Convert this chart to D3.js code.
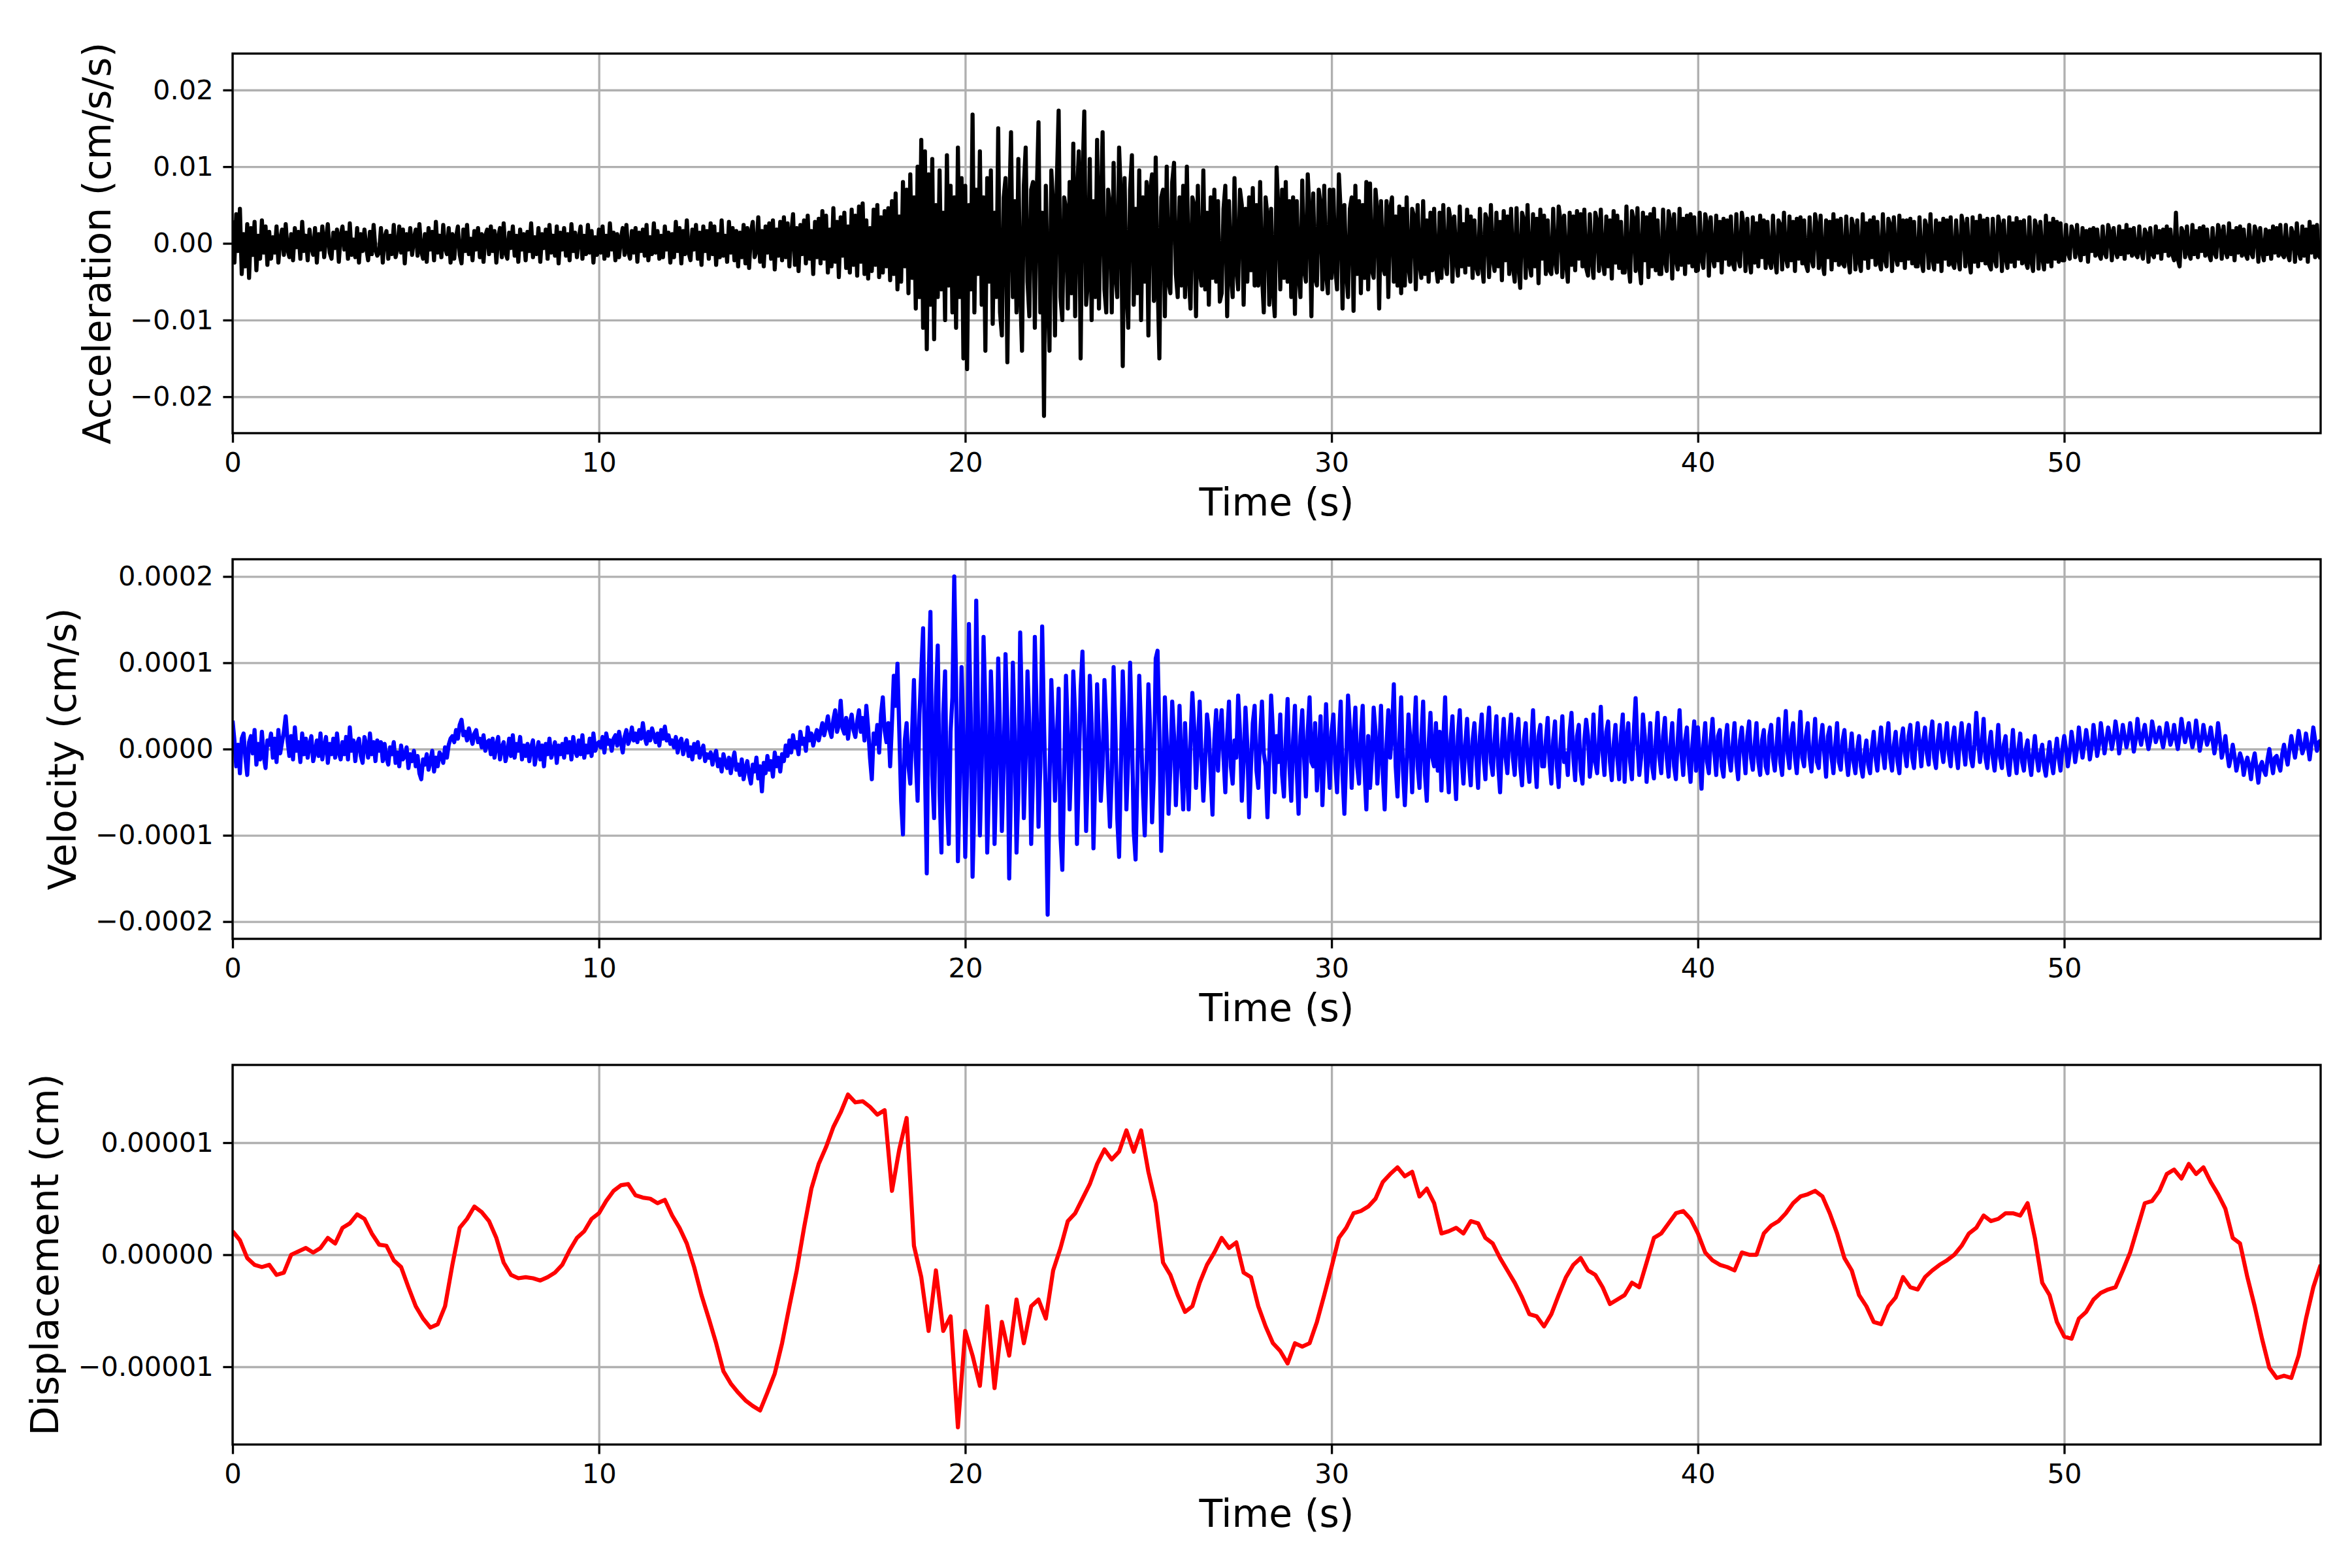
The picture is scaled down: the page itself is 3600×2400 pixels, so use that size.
<!DOCTYPE html>
<html>
<head>
<meta charset="utf-8">
<script src="https://cdn.jsdelivr.net/npm/d3@7"></script>
<style>
  body { margin: 0; background: #ffffff; }
  #chart { width: 3600px; height: 2400px; }
</style>
</head>
<body>
<div id="chart"></div>
<script>

// length of the record, seconds //
var duration = 57;

// acceleration, one sample every 0.05 s (one row per second), units of 1e-4 cm/s/s //
var accel = [
  30,-25,38,-10,45,-40,12,-30,25,-45,20,-15,28,-35,10,-20,30,-12,22,-28,
  15,-20,8,-12,22,-25,5,18,-15,25,-8,-18,12,-22,20,-5,15,-20,28,-10,
  10,-22,18,-5,-15,20,-25,12,-8,22,-18,6,25,-12,-20,14,-6,18,-24,10,
  22,-8,14,-20,26,-15,5,-18,20,-25,12,-10,18,-6,-22,15,-14,24,-8,-16,
  -12,20,-25,8,16,-20,10,-14,24,-18,-6,22,-12,18,-26,12,-8,20,-15,6,
  18,-16,25,-10,-20,12,-24,20,-8,15,-22,28,-12,10,-18,24,-6,-14,20,-25,
  12,-20,8,22,-15,-26,18,-10,24,-14,6,-22,16,-8,20,-18,12,-24,10,18,
  -14,22,-10,16,-25,8,20,-18,26,-12,-20,14,-6,22,-16,10,-24,18,-8,12,
  -22,15,-10,26,-18,8,-14,20,-24,12,-6,18,-20,24,-12,10,-16,22,-26,14,
  -8,20,-16,12,-22,25,-10,14,-18,6,22,-20,10,-14,24,-12,16,-25,8,-15,
  18,-12,22,-20,10,-16,26,-8,14,-22,12,-18,6,20,-15,24,-10,-20,16,-12,
  20,-24,14,-10,18,-16,24,-22,8,-14,26,-12,16,-20,10,-18,22,-8,14,-25,
  12,-18,28,-10,20,-26,16,-14,30,-12,-22,18,-8,24,-20,14,-28,22,-10,16,
  -20,26,-14,22,-28,12,-18,30,-16,10,-24,28,-12,20,-22,16,-30,14,-18,24,
  -26,20,-32,14,28,-18,-10,34,-24,16,-30,22,-12,26,-20,30,-34,18,-16,28,
  -22,34,-18,26,-30,12,38,-28,20,-36,24,-14,30,-26,36,-20,16,-40,28,-18,
  32,-26,42,-20,36,-38,18,-30,46,-24,28,-44,34,-16,40,-32,22,-38,44,-28,
  36,-42,48,-24,52,-40,30,-46,20,-36,44,-28,50,-44,34,-38,42,-30,46,-48,
  55,-40,65,-60,35,-50,80,-30,70,-65,90,-45,60,-85,100,-70,135,-110,120,-138,
  90,-80,110,-125,50,-70,95,-60,40,-100,115,-55,75,-90,60,-110,125,-70,85,-150,
  75,-164,50,-60,168,-90,70,-40,120,-80,60,-140,85,-50,95,-105,40,-70,150,-90,
  -120,60,85,-155,40,145,-70,55,-90,110,-60,-140,75,125,-50,-95,70,80,-110,60,
  158,-90,40,-225,75,-60,-140,95,50,-120,80,173,-70,-100,60,45,-85,80,-65,130,
  -95,60,120,-150,80,172,-80,-50,110,-100,55,-70,135,-85,40,145,-60,-90,70,50,
  -90,105,-40,-70,125,60,-160,85,-55,-110,70,115,-80,45,-65,95,-100,60,-50,80,
  -120,70,90,-75,112,-45,-150,60,70,-95,100,-50,-65,80,105,-40,-70,60,-55,75,
  -70,100,-40,-85,60,50,-95,75,-35,-55,95,-60,40,-80,60,-45,70,-50,55,-76,
  -65,45,75,-95,55,-40,-70,85,-30,-60,70,50,-80,45,-50,60,-35,72,-55,50,
  -55,80,-40,-90,60,35,-80,45,-60,-95,99,40,-60,70,-45,80,-50,55,-70,60,
  -92,55,-40,-70,82,-35,-50,90,40,-95,65,-45,-55,70,50,-60,75,-40,-65,70,
  -45,70,-30,-60,90,40,-85,50,-35,-70,45,60,-88,75,-40,55,-65,50,-45,80,
  -60,78,-35,-45,70,40,-85,55,-30,-40,55,-70,45,60,-50,35,-55,48,-65,45,
  -55,60,-30,-50,45,35,-60,50,-25,-45,55,-40,30,-50,40,-35,45,-30,-50,40,
  -45,50,-25,-40,45,30,-50,35,-20,-42,48,-30,25,-38,44,-28,35,-45,30,-30,
  -40,45,-25,-50,38,30,-44,50,-20,-36,40,-30,28,-48,42,-22,35,-40,45,-30,
  -50,46,-28,-58,40,30,-45,50,-25,-42,38,-30,32,-52,44,-20,36,-40,30,-35,
  -40,45,-22,-38,48,30,-44,36,-25,-50,40,-28,35,-35,42,-20,38,-30,44,-32,
  -42,38,-20,-45,40,28,-36,44,-22,-40,35,-30,30,-46,42,-25,36,-32,28,-38,
  -38,48,-25,-50,42,30,-36,46,-28,-52,40,-22,34,-44,38,-30,45,-35,30,-40,
  -40,44,-22,-36,42,28,-46,38,-20,-34,45,-28,32,-40,36,-25,38,-30,34,-36,
  -35,40,-20,-32,38,25,-42,34,-18,-30,36,-22,28,-38,32,-20,30,-28,35,-25,
  -34,38,-18,-30,40,22,-36,32,-20,-38,34,-25,26,-30,36,-18,30,-32,28,-24,
  -32,36,-20,-38,30,24,-34,40,-18,-30,35,-22,28,-36,32,-20,34,-26,30,-28,
  -36,34,-20,-30,38,22,-32,36,-25,-40,30,-18,28,-34,38,-22,30,-28,32,-26,
  -30,35,-18,-38,32,20,-34,30,-22,-36,38,-20,26,-32,30,-18,34,-28,28,-24,
  -34,38,-20,-30,32,24,-36,34,-18,-28,36,-22,30,-32,30,-20,32,-26,28,-30,
  -30,34,-22,-36,30,20,-32,38,-18,-34,30,-24,26,-36,32,-20,30,-28,34,-26,
  -32,30,-18,-34,36,22,-30,32,-20,-38,34,-24,28,-30,36,-22,30,-26,32,-28,
  -34,32,-20,-30,35,22,-36,30,-18,-32,34,-24,26,-30,33,-20,28,-26,30,-24,
  -32,34,-22,-36,30,20,-33,28,-18,-34,36,-24,26,-30,32,-20,28,-24,26,-22,
  -22,24,-12,-20,22,14,-18,24,-10,-22,20,-14,16,-24,18,-10,20,-16,18,-14,
  -20,22,-12,-18,24,14,-22,20,-10,-18,22,-14,16,-20,24,-12,18,-16,20,-14,
  -18,22,-10,-20,18,12,-24,20,-14,-18,22,-12,16,-20,18,-10,22,-16,18,-14,
  -22,40,-20,-30,20,14,-18,22,-12,-20,24,-14,16,-18,20,-10,22,-16,18,-14,
  -22,20,-12,-18,24,14,-20,22,-10,-18,26,-14,16,-22,20,-12,22,-16,18,-14,
  -20,24,-12,-18,22,14,-24,20,-10,-22,18,-14,16,-20,22,-12,20,-16,24,-14,
  -18,24,-14,-22,20,12,-24,26,-10,-20,22,-16,18,-24,28,-12,22,-18,24,-16,
  -20
];

// velocity, one sample every 0.05 s (one row per second), units of 1e-6 cm/s //
var veloc = [
  33,10,-20,5,-28,12,18,-10,-30,8,15,-5,22,-18,6,-12,20,-8,-22,10,
  5,18,-10,12,-15,22,-5,8,20,38,10,-8,15,-12,25,-2,8,-15,18,-6,
  12,-10,5,15,-14,-4,10,-8,18,-12,2,14,-16,6,-6,12,-10,18,-4,-12,
  8,-6,14,-12,25,-2,10,-14,6,12,-8,-16,14,4,-10,18,-6,8,-14,10,
  -2,8,-14,6,-10,-18,2,-6,8,-16,-4,-20,4,-12,-8,2,-22,-6,-14,-2,
  -20,-8,-28,-35,-12,-18,-6,-24,-14,-2,-26,-10,-20,-4,-8,-16,2,-10,5,12,
  15,8,22,12,28,34,16,20,10,24,14,6,18,22,8,12,2,16,-2,8,
  10,-6,12,-10,4,14,-12,2,8,-14,-4,12,-8,16,-10,6,-2,14,-12,4,
  -8,6,-14,2,10,-18,-4,8,-12,4,-20,6,-6,12,-10,-2,8,-16,4,-6,
  6,-10,12,-4,8,-12,14,-2,-8,10,-6,16,-10,4,-4,12,-8,18,-2,6,
  8,2,14,-4,18,6,10,-2,12,16,4,20,8,-4,14,22,6,12,25,10,
  18,8,22,12,30,14,6,20,10,24,16,8,18,4,22,12,26,10,16,6,
  10,2,14,-4,8,12,-6,4,10,-8,2,-12,6,-4,8,-10,-2,4,-14,-6,
  -10,-4,-18,-8,-2,-20,-12,-26,-6,-16,-22,-10,-28,-14,-4,-24,-18,-30,-12,-35,
  -22,-14,-30,-40,-18,-26,-10,-34,-20,-49,-16,-28,-8,-24,-14,-32,-4,-20,-10,-26,
  -6,-14,4,-8,10,-4,16,2,8,-6,20,6,12,-2,25,10,18,4,14,22,
  10,20,30,16,26,38,22,14,34,45,20,28,56,24,18,36,12,30,40,22,
  14,32,45,20,36,10,50,24,-10,-35,18,6,28,-4,40,60,22,8,30,-20,
  30,85,50,99,20,-60,-99,10,30,-20,-40,20,80,-10,-60,40,90,140,-20,-144,
  80,159,-30,-80,60,120,-50,-120,40,90,-60,-110,20,60,200,80,-130,-40,95,20,
  -125,-30,145,40,-148,-60,172,30,-100,-20,130,50,-120,-40,90,30,-110,-30,105,20,
  -95,-20,110,30,-150,-40,100,20,-120,-50,135,40,-80,-10,90,30,-110,-30,130,40,
  -90,-20,142,30,-60,-192,-40,80,20,-60,10,70,-100,-140,-30,85,20,-70,-10,90,
  40,-110,-30,70,113,20,-95,-20,85,30,-115,-30,75,10,-60,-20,80,30,-40,-90,
  -30,95,20,-80,-125,-20,90,30,-70,-10,100,20,-95,-128,-30,85,20,-50,-100,-20,
  75,20,-85,-30,105,114,20,-118,-40,60,10,-75,-20,55,15,-65,-10,50,-20,-70,
  30,-20,-70,10,65,25,-45,5,55,-10,-60,-15,40,20,-30,-76,10,45,-25,20,
  45,-10,-50,15,55,-20,-40,10,-10,62,20,-60,-15,48,5,-79,-20,30,50,-25,
  -45,15,55,-5,-20,-79,-10,62,20,-50,15,-15,40,-30,-55,10,58,-20,-60,10,
  50,-25,-75,15,45,-10,-55,20,60,-15,-20,30,-48,-10,38,-65,-10,52,-5,-45,
  20,40,-15,-50,10,55,-30,-75,-10,62,25,-45,10,48,-20,-40,15,50,-25,-70,
  15,-45,-10,48,20,-40,-5,50,-30,-70,5,45,-10,20,75,-20,-55,10,60,-25,
  -65,-15,40,10,-50,15,60,-20,-45,10,55,-30,-60,5,42,-10,-20,30,-25,20,
  -48,10,60,-15,-50,10,38,-20,-58,15,45,-10,-40,5,35,-15,-42,10,30,-10,
  -45,15,40,-10,-35,20,48,-15,-30,10,38,-20,-50,5,35,-10,-28,15,40,-10,
  -30,15,35,-20,-42,10,30,-15,-38,5,45,-10,-44,15,28,-20,-20,10,36,-15,
  -40,10,32,-20,-44,5,38,-15,-5,-30,20,42,-10,-36,15,28,-25,-40,10,34,
  15,-32,-10,40,-15,-28,10,49,-5,-30,20,32,-15,-36,5,28,-10,-35,15,40,
  -38,10,30,-15,-35,20,59,5,-30,-10,40,15,-38,-5,30,-20,-34,10,42,-10,
  -28,15,36,-10,-32,5,30,-20,-35,10,45,-5,-30,10,25,-15,-38,5,32,-25,
  25,-10,-46,5,30,-15,-28,10,35,-5,-30,15,22,-20,-32,10,28,-10,-25,5,
  30,-15,-35,10,25,-5,-28,15,32,-10,-24,5,30,-15,-30,10,22,-20,-28,15,
  28,-10,-25,5,35,-15,-30,10,44,-5,-22,15,30,-10,-28,5,43,-10,-20,15,
  30,-10,-26,5,35,-15,-22,10,28,-5,-32,15,25,-10,-28,5,30,-15,-24,10,
  22,-10,-30,-5,18,-15,-28,0,15,-20,-32,-5,10,-18,-28,2,20,-10,-25,5,
  25,-5,-22,10,30,-10,-25,5,20,-15,-28,10,24,-5,-20,15,28,-10,-22,10,
  30,5,-20,10,25,-5,-18,15,32,-10,-22,10,28,0,-15,10,30,-5,-20,10,
  25,-5,-22,10,30,0,-18,15,28,-10,-20,5,42,10,-15,5,35,-10,-22,5,
  20,-10,-25,0,28,-10,-22,5,15,-15,-30,-5,22,-10,-28,0,18,-15,-25,0,
  10,-15,-30,-5,15,-10,-25,-5,5,-20,-31,-10,8,-15,-28,-5,12,-10,-25,0,
  15,0,-20,-5,20,5,-15,0,25,5,-10,5,22,8,-12,2,28,10,-8,5,
  30,12,-5,10,25,15,0,12,32,18,-5,10,28,15,2,12,30,14,-3,10,
  35,15,5,18,28,12,0,10,32,20,8,15,25,12,2,14,30,18,5,12,
  28,12,0,15,35,20,8,18,30,14,2,12,33,16,-2,10,28,15,5,12,
  25,10,-5,8,30,12,-10,0,15,-5,-20,-10,5,-8,-25,-15,-5,-12,-30,-18,
  -10,-20,-35,-15,-5,-22,-39,-20,-15,-25,-30,-12,0,-15,-28,-10,-8,-18,-25,-6,
  5,-8,-18,0,15,2,-10,5,21,8,-5,2,18,4,-12,6,25,10,-2,8,
  10
];

// displacement, one sample every 0.2 s, units of 1e-7 cm //
var displ = [
  21,13,-3,-9,-11,-9,-18,-16,0,3,6,2,6,15,10,24,28,36,32,19,9,8,-5,-11,-29,
  -46,-57,-65,-62,-46,-9,24,32,43,38,30,15,-7,-18,-21,-20,-21,-23,-20,-16,-9,4,15,21,32,
  37,48,57,62,63,53,51,50,46,49,35,24,10,-11,-36,-57,-79,-104,-115,-123,-130,-135,-139,-123,-106,
  -79,-46,-14,24,59,81,96,114,127,143,136,137,132,125,129,57,94,122,8,-20,-68,-14,-68,-55,-154,
  -68,-90,-117,-46,-119,-60,-90,-40,-79,-46,-40,-57,-14,6,30,37,50,63,81,94,85,92,111,92,111,
  74,46,-7,-18,-36,-51,-46,-25,-9,2,15,6,11,-16,-20,-46,-64,-79,-86,-97,-79,-82,-79,-60,-36,
  -11,15,24,37,39,43,50,65,72,78,70,74,52,59,46,19,21,24,19,30,28,15,10,-3,-14,
  -25,-38,-53,-55,-64,-53,-36,-20,-9,-3,-14,-18,-29,-44,-40,-36,-25,-29,-7,15,19,28,37,39,32,
  19,2,-5,-9,-11,-14,2,0,0,19,26,30,37,46,52,54,57,52,37,19,-3,-14,-36,-46,-60,
  -62,-46,-38,-20,-29,-31,-20,-14,-9,-5,0,8,19,24,35,30,32,37,37,35,46,15,-25,-36,-60,
  -73,-75,-57,-51,-40,-34,-31,-29,-14,2,24,46,48,57,72,76,68,81,72,78,65,54,41,15,10,
  -20,-46,-75,-101,-110,-108,-110,-90,-57,-29,-9
];

// tick values (in the units above) and their labels //
var timeTicks = [0, 10, 20, 30, 40, 50];
var accTicks = [-200, -100, 0, 100, 200];
var accTickLabels = ["\u22120.02", "\u22120.01", "0.00", "0.01", "0.02"];
var velTicks = [-200, -100, 0, 100, 200];
var velTickLabels = ["\u22120.0002", "\u22120.0001", "0.0000", "0.0001", "0.0002"];
var dispTicks = [-100, 0, 100];
var dispTickLabels = ["\u22120.00001", "0.00000", "0.00001"];

var panels = [
  {values: accel, ticks: accTicks, tickLabels: accTickLabels, label: "Acceleration (cm/s/s)", color: "#000000"},
  {values: veloc, ticks: velTicks, tickLabels: velTickLabels, label: "Velocity (cm/s)", color: "#0000ff"},
  {values: displ, ticks: dispTicks, tickLabels: dispTickLabels, label: "Displacement (cm)", color: "#ff0000"}
];

var width = 3600;
var height = 2400;
var margin = {left: 356, right: 48};
var panelTops = [82, 856, 1630];
var panelHeight = 581;
var font = "DejaVu Sans, Liberation Sans, sans-serif";
var pt = 300 / 72;   // px per point (figure saved at 300 dpi)

var svg = d3.select("#chart")
    .append("svg")
    .attr("width", width)
    .attr("height", height);

svg.append("rect")
    .attr("width", width)
    .attr("height", height)
    .attr("fill", "#ffffff");

var xScale = d3.scaleLinear()
    .domain([0, duration])
    .range([margin.left, width - margin.right]);

var plotWidth = width - margin.right - margin.left;

panels.forEach(function(p, k) {
  var top = panelTops[k];
  var bottom = top + panelHeight;

  // symmetric limits, 10% above the biggest excursion //
  var lim = 1.1 * d3.max(p.values, function(d) { return Math.abs(d); });
  var yScale = d3.scaleLinear()
      .domain([-lim, lim])
      .range([bottom, top]);

  var g = svg.append("g");

  // grid lines //
  var gridX = g.append("g")
      .attr("transform", `translate(0,${bottom})`)
      .call(d3.axisBottom(xScale).tickValues(timeTicks).tickSize(-panelHeight).tickFormat(""));
  var gridY = g.append("g")
      .attr("transform", `translate(${margin.left},0)`)
      .call(d3.axisLeft(yScale).tickValues(p.ticks).tickSize(-plotWidth).tickFormat(""));
  [gridX, gridY].forEach(function(gr) {
    gr.select(".domain").remove();
    gr.selectAll("line")
        .attr("stroke", "#b0b0b0")
        .attr("stroke-width", 0.8 * pt);
  });

  svg.append("clipPath")
      .attr("id", "clip" + k)
    .append("rect")
      .attr("x", margin.left)
      .attr("y", top)
      .attr("width", plotWidth)
      .attr("height", panelHeight);

  // the trace, samples spread evenly over the record //
  var dt = duration / (p.values.length - 1);
  var line = d3.line()
      .x(function(d, i) { return xScale(i * dt); })
      .y(function(d) { return yScale(d); });

  g.append("path")
      .datum(p.values)
      .attr("d", line)
      .attr("fill", "none")
      .attr("stroke", p.color)
      .attr("stroke-width", 1.5 * pt)
      .attr("stroke-linejoin", "round")
      .attr("clip-path", "url(#clip" + k + ")");

  // frame //
  g.append("rect")
      .attr("x", margin.left)
      .attr("y", top)
      .attr("width", plotWidth)
      .attr("height", panelHeight)
      .attr("fill", "none")
      .attr("stroke", "#000000")
      .attr("stroke-width", 0.8 * pt);

  // axes //
  var xAxis = g.append("g")
      .attr("transform", `translate(0,${bottom})`)
      .call(d3.axisBottom(xScale).tickValues(timeTicks).tickSize(3.5 * pt).tickPadding(3.5 * pt).tickFormat(d3.format("d")));

  var yAxis = g.append("g")
      .attr("transform", `translate(${margin.left},0)`)
      .call(d3.axisLeft(yScale).tickValues(p.ticks).tickSize(3.5 * pt).tickPadding(3.5 * pt)
        .tickFormat(function(d, i) { return p.tickLabels[i]; }));

  [xAxis, yAxis].forEach(function(ax) {
    ax.select(".domain").remove();
    ax.attr("font-family", font).attr("font-size", 10 * pt);
    ax.selectAll("line").attr("stroke", "#000000").attr("stroke-width", 0.8 * pt);
    ax.selectAll("text").attr("fill", "#000000");
  });

  g.append("text")
      .attr("x", (margin.left + width - margin.right) / 2)
      .attr("y", bottom + 126)
      .attr("text-anchor", "middle")
      .attr("font-family", font)
      .attr("font-size", 14 * pt)
      .text("Time (s)");

  // y label sits left of the widest tick label //
  var tickLeft = d3.min(yAxis.selectAll(".tick text").nodes(), function(n) { return n.getBBox().x; });
  var labelX = margin.left + tickLeft - 4 * pt - 0.236 * 14 * pt;

  g.append("text")
      .attr("transform", `translate(${labelX},${top + panelHeight / 2}) rotate(-90)`)
      .attr("text-anchor", "middle")
      .attr("font-family", font)
      .attr("font-size", 14 * pt)
      .text(p.label);
});

</script>
</body>
</html>
